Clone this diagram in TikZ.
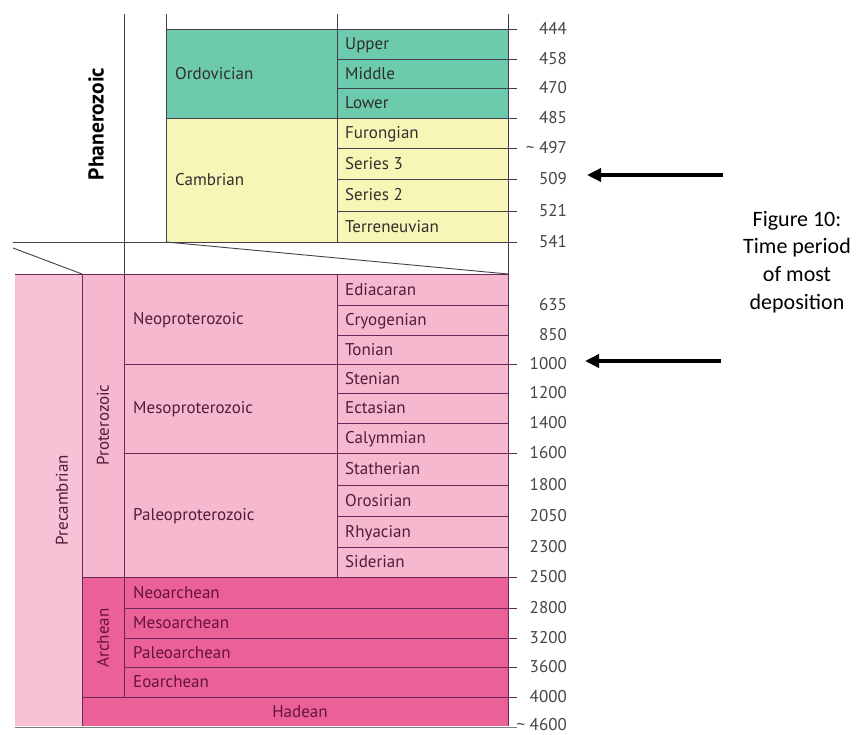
\documentclass[tikz,border=0pt]{standalone}
\usepackage{fontspec}
\setmainfont{PT Sans}
\newfontfamily\capfont{Carlito}
\usetikzlibrary{arrows.meta}
\definecolor{ordo}{RGB}{108,203,172}
\definecolor{camb}{RGB}{246,246,182}
\definecolor{prot}{RGB}{245,184,206}
\definecolor{prec}{RGB}{247,194,213}
\definecolor{arch}{RGB}{236,96,152}
\definecolor{lnup}{RGB}{70,62,78}
\definecolor{lnlo}{RGB}{105,40,90}
\definecolor{txup}{RGB}{50,46,46}
\definecolor{txlo}{RGB}{80,30,58}
\definecolor{txar}{RGB}{100,20,56}
\definecolor{numc}{RGB}{70,68,68}
\begin{document}
\begin{tikzpicture}[x=1pt,y=-1pt,
  lnu/.style={draw=lnup,line width=0.9pt},
  lnl/.style={draw=lnlo,line width=0.9pt},
  lbl/.style={font=\fontsize{17}{20}\selectfont,inner sep=0pt,anchor=west,text height=11.9pt,text depth=0pt},
  lblu/.style={lbl,text=txup},
  lbll/.style={lbl,text=txlo},
  lbla/.style={lbl,text=txar},
  rotl/.style={font=\fontsize{17}{20}\selectfont,inner sep=0pt,anchor=center,rotate=90,text height=11.9pt,text depth=0pt},
  num/.style={font=\fontsize{17}{20}\selectfont,inner sep=0pt,anchor=east,text=numc,text height=11.6pt,text depth=0pt},
  bigarrow/.style={line width=3.4pt,-{Triangle[length=14pt,width=13pt]}}
]
\useasboundingbox (0,0) rectangle (857,735);
\fill[white] (0,0) rectangle (857,735);

% ---------- fills ----------
\fill[ordo] (166,29) rectangle (508,118);
\fill[camb] (166,118) rectangle (508,242);
\fill[prec] (15,274) rectangle (82,726);
\fill[prot] (82,274) rectangle (508,577);
\fill[arch] (82,577) rectangle (508,726);

% ---------- upper lines ----------
\draw[lnu] (124,14) -- (124,274);
\draw[lnu] (166,14) -- (166,242);
\draw[lnu] (337,14) -- (337,242);
\draw[lnu] (508,14) -- (508,274);
\draw[lnu] (166,29) -- (517,29);
\foreach \yy in {59,88,148,179,211} \draw[lnu] (337,\yy) -- (517,\yy);
\draw[lnu] (166,118) -- (517,118);
\draw[lnu] (13,242) -- (517,242);
\draw[lnu] (13,248) -- (82,274);
\draw[lnu] (166,242) -- (508,274);

% ---------- lower lines ----------
\draw[lnl] (15,274) -- (508,274);
\draw[lnl] (82,274) -- (82,726);
\draw[lnl] (124,274) -- (124,697);
\draw[lnl] (337,274) -- (337,577);
\draw[lnl] (508,274) -- (508,726);
\foreach \yy in {305,335,393,423,485,516,547} \draw[lnl] (337,\yy) -- (508,\yy);
\foreach \yy in {364,453} \draw[lnl] (124,\yy) -- (517,\yy);
\draw[lnl] (82,577) -- (517,577);
\foreach \yy in {608,638,667} \draw[lnl] (124,\yy) -- (517,\yy);
\draw[lnl] (82,697) -- (517,697);
\draw[draw=numc!70,line width=0.9pt] (15,727) -- (517,727);

% ---------- upper labels ----------
\node[rotl,font=\fontsize{21.5}{24}\selectfont\bfseries,text=black,text height=15pt] (phan) at (96,124) {Phanerozoic};
\node[lblu] (ordv) at (175,74) {Ordovician};
\node[lblu] (camb) at (175,180) {Cambrian};
\node[lblu] (upper) at (345,44) {Upper};
\node[lblu] (middle) at (345,73.5) {Middle};
\node[lblu] (lower) at (345,103) {Lower};
\node[lblu] (furo) at (345,133) {Furongian};
\node[lblu] (ser3) at (345,163.5) {Series 3};
\node[lblu] (ser2) at (345,195) {Series 2};
\node[lblu] (terr) at (345,226.5) {Terreneuvian};

% ---------- lower labels ----------
\node[rotl,text=txlo] (precl) at (62,500) {Precambrian};
\node[rotl,text=txlo] (protl) at (103,425) {Proterozoic};
\node[lbll] (neop) at (133,319) {Neoproterozoic};
\node[lbll] (mesop) at (133,408) {Mesoproterozoic};
\node[lbll] (paleop) at (133,515) {Paleoproterozoic};
\node[lbll] (edia) at (345,289.5) {Ediacaran};
\node[lbll] (cryo) at (345,320) {Cryogenian};
\node[lbll] (toni) at (345,349.5) {Tonian};
\node[lbll] (sten) at (345,378.5) {Stenian};
\node[lbll] (ecta) at (345,408) {Ectasian};
\node[lbll] (caly) at (345,438) {Calymmian};
\node[lbll] (stat) at (345,469) {Statherian};
\node[lbll] (oros) at (345,500.5) {Orosirian};
\node[lbll] (rhya) at (345,531.5) {Rhyacian};
\node[lbll] (side) at (345,562) {Siderian};
\node[rotl,text=txar] (archl) at (103,638) {Archean};
\node[lbla] (neoa) at (133,592.5) {Neoarchean};
\node[lbla] (mesoa) at (133,623) {Mesoarchean};
\node[lbla] (paleoa) at (133,652.5) {Paleoarchean};
\node[lbla] (eoa) at (133,682) {Eoarchean};
\node[lbla,anchor=center] (hade) at (300,711.5) {Hadean};

% ---------- numbers ----------
\node[num] (n444) at (567,29) {444};
\node[num] (n458) at (567,59) {458};
\node[num] (n470) at (567,88) {470};
\node[num] (n485) at (567,118) {485};
\node[num] (n497) at (567,148) {\textasciitilde\ 497};
\node[num] (n509) at (567,179) {509};
\node[num] (n521) at (567,211) {521};
\node[num] (n541) at (567,242) {541};
\node[num] (n635) at (567,305) {635};
\node[num] (n850) at (567,335) {850};
\node[num] (n1000) at (567,364) {1000};
\node[num] (n1200) at (567,393) {1200};
\node[num] (n1400) at (567,423) {1400};
\node[num] (n1600) at (567,453) {1600};
\node[num] (n1800) at (567,485) {1800};
\node[num] (n2050) at (567,516) {2050};
\node[num] (n2300) at (567,547) {2300};
\node[num] (n2500) at (567,577) {2500};
\node[num] (n2800) at (567,608) {2800};
\node[num] (n3200) at (567,638) {3200};
\node[num] (n3600) at (567,667) {3600};
\node[num] (n4000) at (567,697) {4000};
\node[num] (n4600) at (567,724.5) {\textasciitilde\ 4600};

% ---------- arrows and caption ----------
\coordinate (a1s) at (723,175);
\coordinate (a1e) at (587,175);
\coordinate (a2s) at (721,361);
\coordinate (a2e) at (585,361);
\draw[bigarrow] (a1s) -- (a1e);
\draw[bigarrow] (a2s) -- (a2e);
\node[font=\capfont\fontsize{22}{27.7}\selectfont,align=center,inner sep=0pt] (cap) at (797,262)
  {Figure 10:\\Time period\\of most\\deposition};
\end{tikzpicture}
\end{document}
